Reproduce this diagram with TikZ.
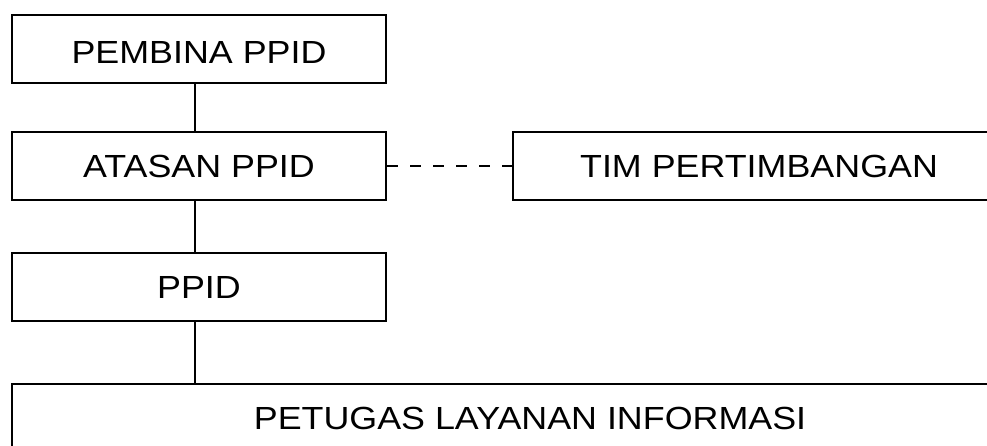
\documentclass[tikz,border=0pt]{standalone}
\usepackage{fontspec}
\setmainfont{Liberation Sans}
\usepackage{graphicx}
\newcommand{\wtext}[1]{\scalebox{1.12}[1]{#1}}
\tikzset{
  orgbox/.style={draw=black, line width=2pt, rectangle, inner sep=0pt,
    minimum height=68pt, font=\fontsize{32}{36}\selectfont, text=black},
  link/.style={draw=black, line width=2pt},
  dlink/.style={draw=black, line width=2pt, dash pattern=on 11pt off 12pt}
}
\begin{document}
\begin{tikzpicture}[x=1pt,y=-1pt]
\useasboundingbox (0,0) rectangle (987,445);
\clip (0,0) rectangle (987,445);
\fill[white] (0,0) rectangle (987,445);
\node[orgbox, minimum width=374pt, text height=29pt, text depth=0pt] (pembina) at (199,49) {\wtext{PEMBINA PPID}};
\node[orgbox, minimum width=374pt] (atasan) at (199,166) {\wtext{ATASAN PPID}};
\node[orgbox, minimum width=492pt] (tim) at (759,166) {\wtext{TIM PERTIMBANGAN}};
\node[orgbox, minimum width=374pt] (ppid) at (199,287) {\wtext{PPID}};
\node[orgbox, minimum width=1036pt] (petugas) at (530,418) {\wtext{PETUGAS LAYANAN INFORMASI}};
\draw[link] ([xshift=-4pt]pembina.south) -- ([xshift=-4pt]atasan.north);
\draw[link] ([xshift=-4pt]atasan.south) -- ([xshift=-4pt]ppid.north);
\draw[link] ([xshift=-4pt]ppid.south) -- ([xshift=-4pt]ppid.south |- petugas.north);
\draw[dlink] (atasan.east) -- (tim.west);
\end{tikzpicture}
\end{document}
